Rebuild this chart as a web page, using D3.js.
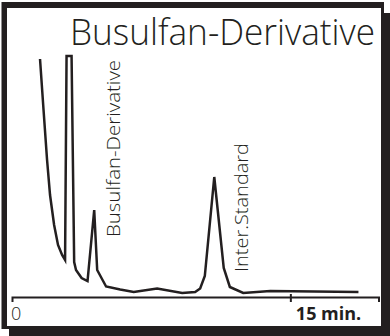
<!DOCTYPE html>
<html>
<head>
<meta charset="utf-8">
<script src="https://cdn.jsdelivr.net/npm/d3@7"></script>
<style>
  html, body { margin: 0; padding: 0; background: #fff; }
  svg { display: block; }
  text { font-family: "Open Sans", "Liberation Sans", sans-serif; fill: #231f20; }
</style>
</head>
<body>
<svg id="chart" width="390" height="336"></svg>
<script>
// Chromatogram trace: retention time (min) and detector signal (arbitrary units)
const times = [1.51, 1.70, 1.89, 2.05, 2.27, 2.48, 2.70, 2.86, 2.94, 3.21, 3.35, 3.45,
               3.75, 4.07, 4.43, 4.59, 5.07, 5.83, 6.56, 7.82, 9.17, 9.87, 10.14, 10.39,
               10.90, 11.41, 11.74, 12.46, 13.92, 18.67];
const signal = [238, 187, 137, 102, 72, 52, 42, 37, 241, 241, 35, 27,
                19, 16, 87, 27, 10.5, 7.5, 5, 8.5, 4, 5, 8.5, 21,
                120, 29, 10, 4, 6, 5];

// Peak annotations
const peakNames = ["Busulfan-Derivative", "Inter.Standard"];
const peakTimes = [4.43, 10.90];

// Axis ticks
const tickTimes = [0, 15];
const tickLabels = ["0", "15 min."];
const chartTitle = "Busulfan-Derivative";

const ink = "#231f20";
const svg = d3.select("#chart");

// Frame with drop shadow
svg.append("rect").attr("x", 9).attr("y", 13).attr("width", 381).attr("height", 323).attr("fill", ink);
svg.append("rect").attr("x", 1.5).attr("y", 2).attr("width", 382.5).attr("height", 327).attr("fill", ink);
svg.append("rect").attr("x", 7).attr("y", 8).attr("width", 374).attr("height", 318).attr("fill", "#fff");

const x = d3.scaleLinear().domain([0, 19.75]).range([12, 378.5]);
const y = d3.scaleLinear().domain([0, 240]).range([297, 57]);

// Title
svg.append("text")
  .attr("x", 375).attr("y", 45)
  .attr("text-anchor", "end")
  .attr("font-size", 36)
  .attr("font-weight", 300)
  .attr("textLength", 305)
  .attr("lengthAdjust", "spacingAndGlyphs")
  .text(chartTitle);

// Time axis
const axis = d3.axisBottom(x)
  .tickValues(tickTimes)
  .tickSizeOuter(0)
  .tickSize(5)
  .tickFormat((d, i) => tickLabels[i]);

const gAxis = svg.append("g").attr("transform", `translate(0,${y(0)})`).call(axis);
gAxis.select(".domain").attr("stroke", ink).attr("stroke-width", 2);
gAxis.selectAll(".tick line")
  .attr("stroke", ink).attr("stroke-width", 2)
  .attr("y1", -3).attr("y2", 5)
  .attr("display", d => d === 0 ? "none" : null);
gAxis.selectAll(".tick text")
  .attr("fill", ink)
  .attr("font-family", "'Open Sans', 'Liberation Sans', sans-serif")
  .attr("font-size", 18)
  .attr("font-weight", d => d === 0 ? 300 : 700)
  .attr("text-anchor", "start")
  .attr("x", d => d === 0 ? -1.5 : 5)
  .attr("y", 23)
  .attr("dy", 0);

// Signal trace
const line = d3.line().x((d, i) => x(times[i])).y(d => y(d));
svg.append("path")
  .datum(signal)
  .attr("d", line)
  .attr("fill", "none")
  .attr("stroke", ink)
  .attr("stroke-width", 2.5)
  .attr("stroke-linejoin", "miter");

// Peak labels, written vertically beside each peak
const labelX = [119.5, 248];
const labelY = [237, 272];
const labelLen = [177, 129];
const labelSize = [18.5, 17.5];
peakNames.forEach((name, i) => {
  svg.append("text")
    .attr("transform", `translate(${labelX[i]},${labelY[i]}) rotate(-90)`)
    .attr("font-size", labelSize[i])
    .attr("font-weight", 300)
    .attr("textLength", labelLen[i])
    .attr("lengthAdjust", "spacingAndGlyphs")
    .text(name);
});
</script>
</body>
</html>
